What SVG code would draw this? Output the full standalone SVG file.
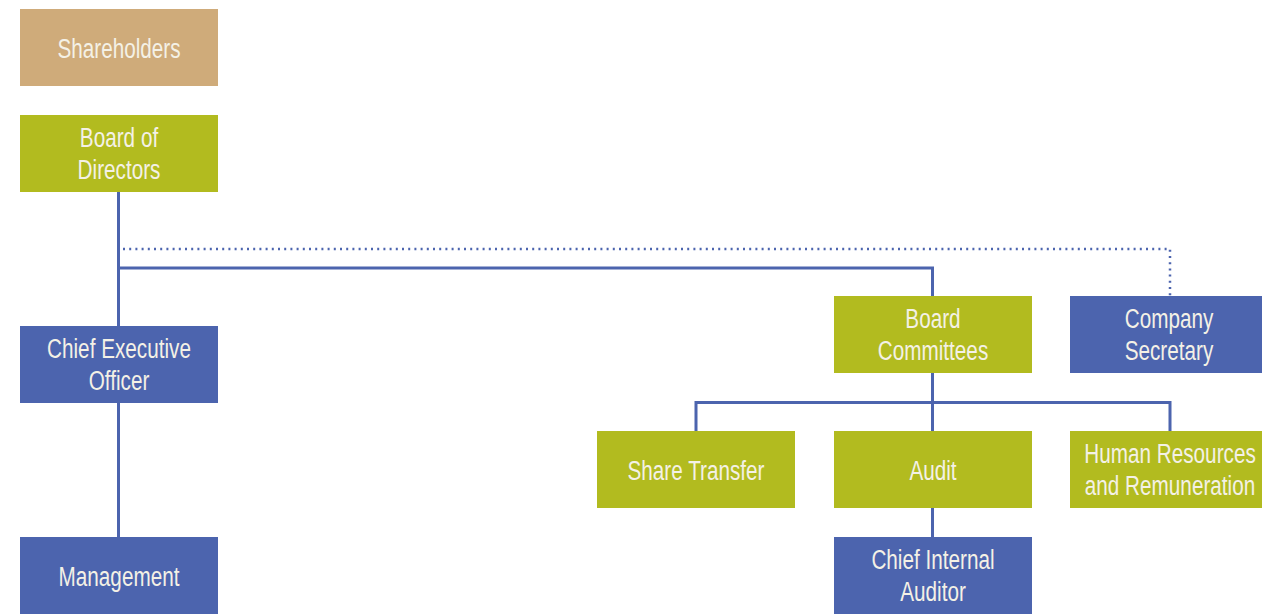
<svg xmlns="http://www.w3.org/2000/svg" width="1262" height="614" viewBox="0 0 1262 614">
<style>
.box{stroke:none}
.tan{fill:#cfab7a}
.green{fill:#b2bb1f}
.blue{fill:#4c64ae}
.t{fill:#f4f1e6;font-family:"Liberation Sans",Arial,sans-serif;font-size:28px;text-anchor:middle}
.ln{fill:none;stroke:#4c64ae;stroke-width:3}
.dot{fill:none;stroke:#4c64ae;stroke-width:2.5;stroke-dasharray:2 4.2}
</style>
<rect width="1262" height="614" fill="#ffffff"/>
<g id="connectors">
<path class="ln" d="M118.5 192V326M118.5 403V537M118.5 268H932.5V296M932.5 373V431M696 431V402.5H1170V431M932.5 508V537"/>
<path class="dot" d="M123 249H1170V296"/>
</g>
<g id="shareholders"><rect class="box tan" x="20" y="9" width="198" height="77"/><text class="t" transform="translate(119 58) scale(0.74 1)">Shareholders</text></g>
<g id="board"><rect class="box green" x="20" y="115" width="198" height="77"/><text class="t" transform="translate(119 147) scale(0.74 1)">Board of</text><text class="t" transform="translate(119 179) scale(0.74 1)">Directors</text></g>
<g id="ceo"><rect class="box blue" x="20" y="326" width="198" height="77"/><text class="t" transform="translate(119 358) scale(0.74 1)">Chief Executive</text><text class="t" transform="translate(119 390) scale(0.74 1)">Officer</text></g>
<g id="management"><rect class="box blue" x="20" y="537" width="198" height="77"/><text class="t" transform="translate(119 586) scale(0.74 1)">Management</text></g>
<g id="committees"><rect class="box green" x="834" y="296" width="198" height="77"/><text class="t" transform="translate(933 328) scale(0.74 1)">Board</text><text class="t" transform="translate(933 360) scale(0.74 1)">Committees</text></g>
<g id="secretary"><rect class="box blue" x="1070" y="296" width="198" height="77"/><text class="t" transform="translate(1169 328) scale(0.74 1)">Company</text><text class="t" transform="translate(1169 360) scale(0.74 1)">Secretary</text></g>
<g id="share-transfer"><rect class="box green" x="597" y="431" width="198" height="77"/><text class="t" transform="translate(696 480) scale(0.74 1)">Share Transfer</text></g>
<g id="audit"><rect class="box green" x="834" y="431" width="198" height="77"/><text class="t" transform="translate(933 480) scale(0.74 1)">Audit</text></g>
<g id="hr"><rect class="box green" x="1070" y="431" width="198" height="77"/><text class="t" transform="translate(1170 463) scale(0.74 1)">Human Resources</text><text class="t" transform="translate(1170 495) scale(0.74 1)">and Remuneration</text></g>
<g id="cia"><rect class="box blue" x="834" y="537" width="198" height="77"/><text class="t" transform="translate(933 569) scale(0.74 1)">Chief Internal</text><text class="t" transform="translate(933 601) scale(0.74 1)">Auditor</text></g>
</svg>
